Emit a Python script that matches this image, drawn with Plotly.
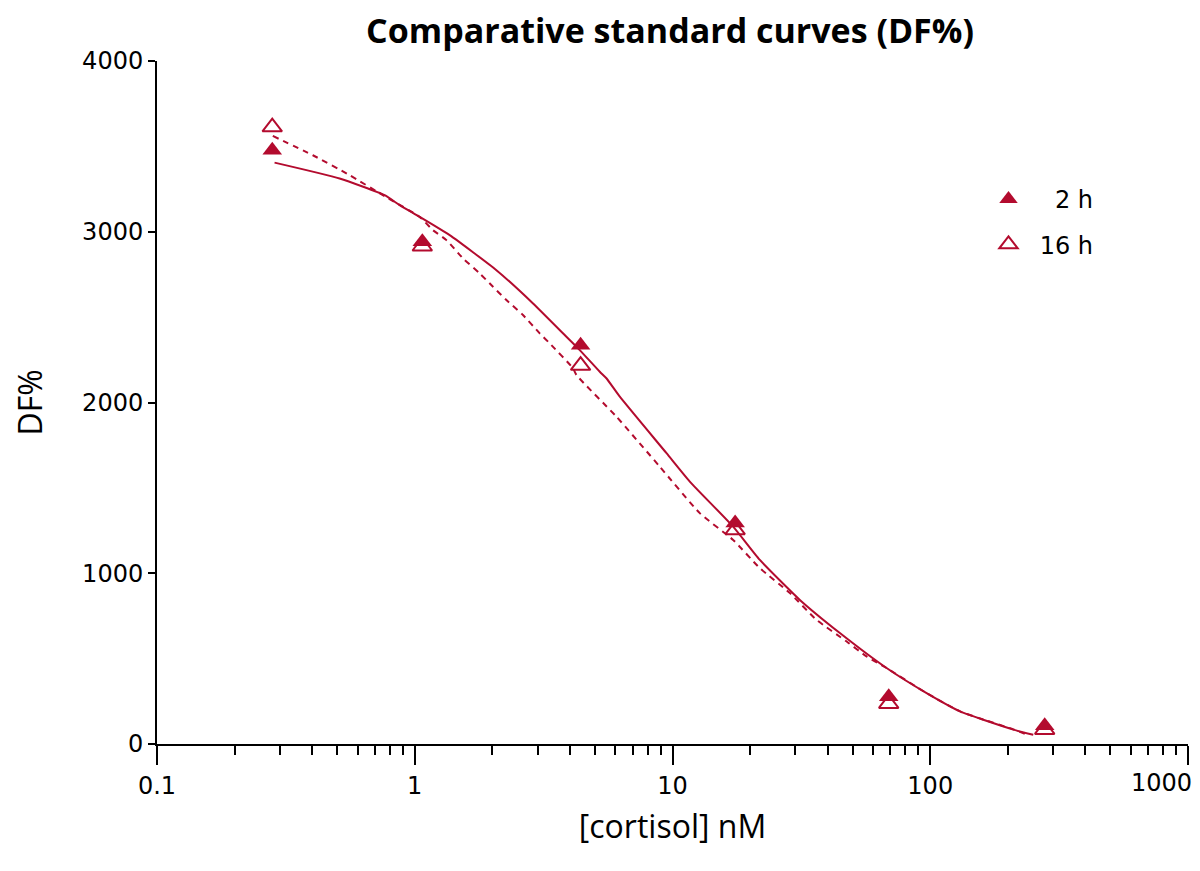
import plotly.graph_objects as go

# Measured standards (nM) and DF% readings
conc = [0.28, 1.07, 4.4, 17.5, 69, 278]
df_2h = [3477, 2941, 2336, 1295, 277, 107]
df_16h = [3613, 2915, 2216, 1254, 236, 84]

# Fitted curves
fit2_x = [0.2858, 0.511, 0.764, 0.874, 1.045, 1.366, 2.074, 2.877, 3.877, 4.367,
          5.223, 5.54, 6.245, 9.48, 11.67, 17.19, 21.82, 31.2, 44.6, 67.7,
          96.8, 130.5, 210, 251]
fit2_y = [3405, 3312, 3214, 3156, 3087, 2980, 2775, 2580, 2385, 2307,
          2180, 2142, 2034, 1703, 1537, 1273, 1078, 844, 650, 445,
          298, 191, 84, 54]

fit16_x = [0.2814, 0.4025, 0.559, 0.764, 1.045, 1.177, 1.327, 1.539, 1.786, 2.012,
           2.268, 2.630, 3.054, 3.34, 4.113, 4.24, 6.06, 8.93, 12.76, 17.19,
           21.82, 28.54, 36.2, 47.4, 56.6, 67.7, 96.8, 130.5, 210, 242]
fit16_y = [3561, 3448, 3331, 3208, 3087, 3009, 2951, 2844, 2756, 2678,
           2600, 2512, 2405, 2346, 2200, 2161, 1917, 1624, 1352, 1195,
           1030, 884, 727, 600, 513, 445, 298, 191, 86, 50]

x_tickvals = [0.1, 1, 10, 100, 1000]
x_ticktext = ["0.1", "1", "10", "100", ""]   # last label drawn as an edge-aligned annotation
last_x_label = "1000"
y_tickvals = [0, 1000, 2000, 3000, 4000]

RED = "#B30B2E"
TICK_FONT = dict(family="DejaVu Sans", size=24, color="black")

# page body has an 8px margin: figure is sized/placed to compensate
W, H = 1192, 863

fig = go.Figure()

fig.add_trace(go.Scatter(x=fit2_x, y=fit2_y, mode="lines", showlegend=False,
                         line=dict(color=RED, width=2, shape="spline", smoothing=0.5),
                         hoverinfo="skip"))
fig.add_trace(go.Scatter(x=fit16_x, y=fit16_y, mode="lines", showlegend=False,
                         line=dict(color=RED, width=2, dash="6px,5px", shape="spline", smoothing=0.5),
                         hoverinfo="skip"))
fig.add_trace(go.Scatter(x=conc, y=df_16h, mode="markers", name="\u200816 h",
                         legendgroup="b", legendrank=2,
                         marker=dict(symbol="triangle-up-open", size=17, color=RED,
                                     line=dict(color=RED, width=2))))
fig.add_trace(go.Scatter(x=conc, y=df_2h, mode="markers", name="\u2008\u20072 h",
                         legendgroup="a", legendrank=1,
                         marker=dict(symbol="triangle-up", size=17, color=RED,
                                     line=dict(width=0))))

fig.add_annotation(x=3, xref="x", y=0, yref="paper", text=last_x_label,
                   showarrow=False, font=TICK_FONT,
                   xanchor="right", yanchor="middle", xshift=6, yshift=-39)

fig.update_layout(
    width=W, height=H,
    margin=dict(l=149, r=12, t=53, b=127),
    paper_bgcolor="white", plot_bgcolor="white",
    title=dict(text="<b>Comparative standard curves (DF%)</b>",
               font=dict(family="Open Sans", size=34, color="black"),
               x=(662 / W), xanchor="center", y=1 - 23 / H, yanchor="middle"),
    showlegend=True,
    legend=dict(x=(985 - 157) / 1031, xanchor="left", y=(744 - 177) / 683, yanchor="top",
                font=TICK_FONT, tracegroupgap=11, itemwidth=37, bgcolor="rgba(0,0,0,0)"),
    xaxis=dict(type="log", range=[-1, 3], tickvals=x_tickvals, ticktext=x_ticktext,
               automargin=False,
               ticks="outside", ticklen=19, tickwidth=2, tickcolor="black",
               showline=True, linecolor="black", linewidth=2, showgrid=False, zeroline=False,
               tickfont=TICK_FONT,
               minor=dict(ticks="outside", ticklen=9, tickwidth=2, tickcolor="black",
                          dtick="D1", showgrid=False),
               title=dict(text="[cortisol] nM", font=dict(family="Open Sans", size=32, color="black"),
                          standoff=17)),
    yaxis=dict(range=[0, 4000], tickvals=y_tickvals, automargin=False,
               ticks="outside", ticklen=7, tickwidth=2, tickcolor="black",
               showline=True, linecolor="black", linewidth=2, showgrid=False, zeroline=False,
               tickfont=TICK_FONT,
               title=dict(text="DF%", font=dict(family="Open Sans", size=32, color="black"),
                          standoff=31)),
)

fig.write_html("out.html")
